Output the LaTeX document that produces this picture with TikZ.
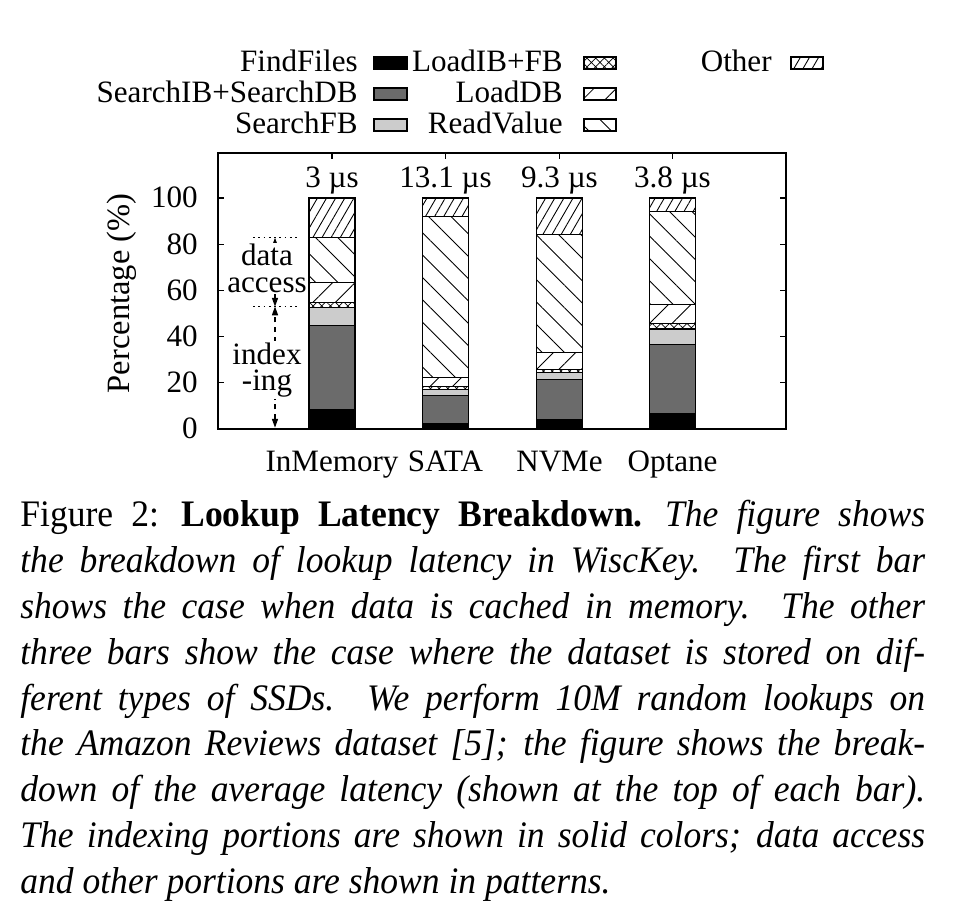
\documentclass[tikz,border=0pt]{standalone}
\usepackage{fontspec}
\setmainfont{Liberation Serif}
\newfontfamily\capfamily[FakeStretch=0.95]{Liberation Serif}
\usetikzlibrary{arrows.meta,patterns.meta}

\definecolor{searchgray}{gray}{0.42}
\definecolor{fbgray}{gray}{0.8}
\newcommand{\chartfont}{\fontsize{17.7}{21}\selectfont}
\newcommand{\notefont}{\fontsize{17.7}{15}\selectfont}
\newcommand{\capfont}{\capfamily\fontsize{21.3}{26.1}\selectfont}

\begin{document}
\begin{tikzpicture}[x=0.02cm, y=0.02cm,
    bar/.style={draw=black, line width=0.6pt},
    findfiles/.style={bar, fill=black},
    searchidx/.style={bar, fill=searchgray},
    searchfb/.style={bar, fill=fbgray},
    loadibfb/.style={bar, pattern={Hatch[angle=45,distance=3.5pt,line width=0.4pt]}},
    loaddb/.style={bar, pattern={Lines[angle=45,distance=9pt,line width=0.5pt]}},
    readvalue/.style={bar, pattern={Lines[angle=-45,distance=9pt,line width=0.5pt]}},
    other/.style={bar, pattern={Lines[angle=60,distance=4.5pt,line width=0.5pt]}},
    lbl/.style={font=\chartfont, inner sep=0pt},
    note/.style={font=\notefont, align=center, fill=white, inner sep=1pt},
    annot/.style={line width=0.6pt, dash pattern=on 3pt off 2.5pt, {Triangle[length=5pt,width=3.5pt]}-{Triangle[length=5pt,width=3.5pt]}},
    guide/.style={line width=0.6pt, dash pattern=on 1pt off 2pt}
]
\fill[white] (0,0) rectangle (954,906);
\useasboundingbox (0,0) rectangle (954,906);

% Legend
\node[lbl, anchor=base east] (lgff) at (358,834) {FindFiles};
\node[lbl, anchor=base east] (lgsi) at (358,803) {SearchIB+SearchDB};
\node[lbl, anchor=base east] (lgfb) at (358,772) {SearchFB};
\draw[findfiles] (374,837) rectangle (407,849);
\draw[searchidx] (374,806) rectangle (407,818);
\draw[searchfb] (374,775) rectangle (407,787);
\node[lbl, anchor=base east] (lglf) at (563,834) {LoadIB+FB};
\node[lbl, anchor=base east] (lgld) at (563,803) {LoadDB};
\node[lbl, anchor=base east] (lgrv) at (563,772) {ReadValue};
\draw[loadibfb] (584,837) rectangle (616,849);
\draw[loaddb] (584,806) rectangle (616,818);
\draw[readvalue] (584,775) rectangle (616,787);
\node[lbl, anchor=base east] (lgot) at (772,834) {Other};
\draw[other] (791,837) rectangle (823,849);

% Plot area, y in percent
\begin{scope}[shift={(218,477)}, y=0.0462cm]
\draw[line width=0.8pt] (0,0) rectangle (568,119.5);
\foreach \p in {0,20,...,100} {
  \draw[line width=0.6pt] (0,\p) -- (6,\p);
  \draw[line width=0.6pt] (568,\p) -- (562,\p);
  \node[lbl, anchor=base east] (ytick\p) at (-20,\p-4.3) {\p};
}
\node[lbl, font=\fontsize{18.5}{21}\selectfont, rotate=90] (ylabel) at (-96,58.7) {Percentage (\%)};

% Stacked bars
\foreach \xc/\ff/\si/\fb/\lf/\ld/\rv in {114/8.4/44.8/52.5/54.8/63.5/82.8,
    227.5/2.3/14.6/17.2/18.5/22.2/92, 341.5/3.9/21.5/24.4/25.8/33.3/84.3,
    454.5/6.5/36.7/43.3/45.5/54/94} {
  \draw[line width=0.6pt] (\xc,0) -- (\xc,2.6);
  \draw[line width=0.6pt] (\xc,119.5) -- (\xc,116.9);
  \draw[findfiles] (\xc-23,0) rectangle (\xc+23,\ff);
  \draw[searchidx] (\xc-23,\ff) rectangle (\xc+23,\si);
  \draw[searchfb] (\xc-23,\si) rectangle (\xc+23,\fb);
  \draw[loadibfb] (\xc-23,\fb) rectangle (\xc+23,\lf);
  \draw[loaddb] (\xc-23,\lf) rectangle (\xc+23,\ld);
  \draw[readvalue] (\xc-23,\ld) rectangle (\xc+23,\rv);
  \draw[other] (\xc-23,\rv) rectangle (\xc+23,100);
}

% Bar names and latencies
\node[lbl, anchor=base] (inmem) at (114,-18.6) {InMemory};
\node[lbl, anchor=base] (sata) at (227.5,-18.6) {SATA};
\node[lbl, anchor=base] (nvme) at (341.5,-18.6) {NVMe};
\node[lbl, anchor=base] (optane) at (454.5,-18.6) {Optane};
\node[lbl, anchor=base] (latinmem) at (114,104.5) {3 µs};
\node[lbl, anchor=base] (latsata) at (227.5,104.5) {13.1 µs};
\node[lbl, anchor=base] (latnvme) at (341.5,104.5) {9.3 µs};
\node[lbl, anchor=base] (latoptane) at (454.5,104.5) {3.8 µs};

% Data access / indexing marks
\coordinate (acctop) at (57,82.8);
\coordinate (split) at (57,53);
\coordinate (idxbot) at (57,0.6);
\draw[guide] (35,82.8) -- (80,82.8);
\draw[guide] (35,53) -- (80,53);
\draw[annot] (split) -- (acctop);
\draw[annot] (idxbot) -- (split);
\node[note] (access) at (49,69.5) {data\\access};
\node[note] (indexing) at (49,25.5) {index\\-ing};
\end{scope}

% Caption
\node[anchor=north west, inner sep=0pt, text width=18.1cm, align=justify, font=\capfont] (caption) at (20,406)
{Figure 2:\hspace{0.6em}\textbf{Lookup Latency Breakdown.}\hspace{0.6em}{\itshape The figure shows\linebreak
the breakdown of lookup latency in WiscKey.  The first bar\linebreak
shows the case when data is cached in memory.  The other\linebreak
three bars show the case where the dataset is stored on dif-\linebreak
ferent types of SSDs.  We perform 10M random lookups on\linebreak
the Amazon Reviews dataset [5]; the figure shows the break-\linebreak
down of the average latency (shown at the top of each bar).\linebreak
The indexing portions are shown in solid colors; data access\linebreak
and other portions are shown in patterns.}};
\end{tikzpicture}
\end{document}
